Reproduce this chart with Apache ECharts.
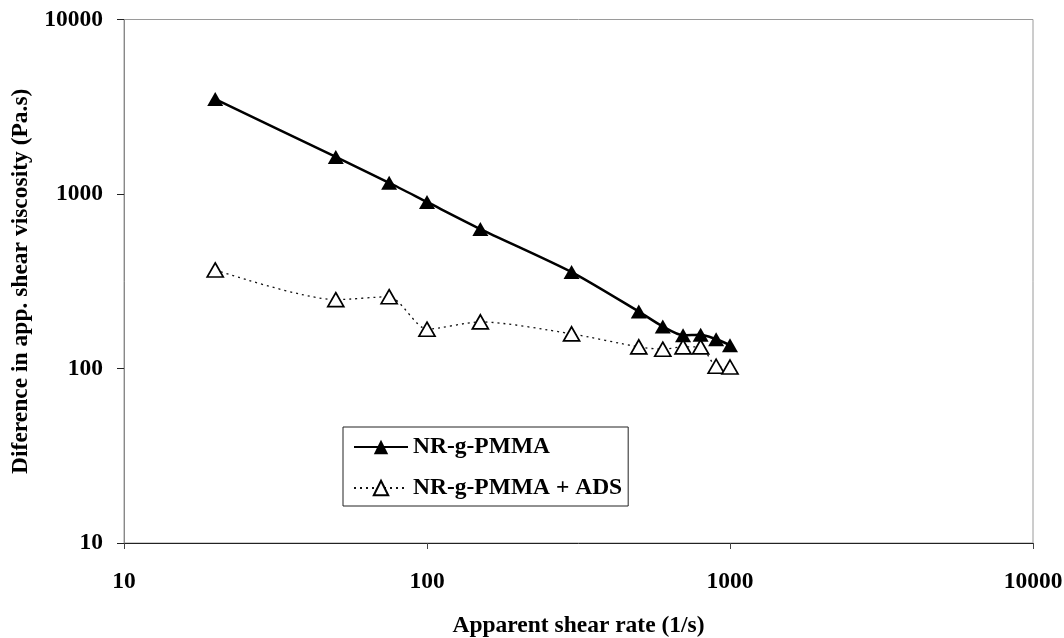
<!DOCTYPE html>
<html>
<head>
<meta charset="utf-8">
<script src="https://cdn.jsdelivr.net/npm/echarts@6/dist/echarts.min.js"></script>
<style>
html,body{margin:0;padding:0;background:#fff;}
#c{width:1064px;height:638px;}
</style>
</head>
<body>
<div id="c"></div>
<script>
const shearRates = [20, 50, 75, 100, 150, 300, 500, 600, 700, 800, 900, 1000];
const nrgPmma = [3500, 1630, 1160, 900, 630, 357, 212, 174, 155, 156, 147, 136];
const nrgPmmaAds = [367, 248, 258, 168, 185, 158, 133, 129, 133, 133, 103, 102];
const seriesNames = ['NR-g-PMMA', 'NR-g-PMMA + ADS'];
const xTitle = 'Apparent shear rate (1/s)';
const yTitle = 'Diference in app. shear viscosity (Pa.s)';

const font = '"Liberation Serif", "Times New Roman", serif';
const fs = 23.5;
const pair = (xs, ys) => xs.map((x, i) => [x, ys[i]]);
const plain = v => String(Math.round(v));

const chart = echarts.init(document.getElementById('c'), null, {renderer: 'canvas'});
chart.setOption({
  backgroundColor: '#fff',
  animation: false,
  grid: {left: 124, right: 31, top: 19.5, bottom: 95, show: true, borderColor: '#9a9a9a', borderWidth: 1,
         containLabel: false, outerBoundsMode: 'none'},
  xAxis: {
    type: 'log', logBase: 10, min: 10, max: 10000,
    name: xTitle, nameLocation: 'middle', nameGap: 71,
    nameTextStyle: {fontFamily: font, fontWeight: 'bold', fontSize: fs, color: '#000'},
    axisLine: {show: true, lineStyle: {color: '#222', width: 1}},
    axisTick: {show: true, length: 6, lineStyle: {color: '#444'}},
    minorTick: {show: false},
    splitLine: {show: false},
    axisLabel: {margin: 27, fontFamily: font, fontWeight: 'bold', fontSize: fs, color: '#000', formatter: plain}
  },
  yAxis: {
    type: 'log', logBase: 10, min: 10, max: 10000,
    name: yTitle, nameLocation: 'middle', nameGap: 90,
    nameTextStyle: {fontFamily: font, fontWeight: 'bold', fontSize: fs, color: '#000'},
    axisLine: {show: true, lineStyle: {color: '#888', width: 1}},
    axisTick: {show: true, length: 7, lineStyle: {color: '#222'}},
    minorTick: {show: false},
    splitLine: {show: false},
    axisLabel: {margin: 21, fontFamily: font, fontWeight: 'bold', fontSize: fs, color: '#000', formatter: plain}
  },
  legend: {
    left: 343, top: 427, orient: 'vertical',
    padding: [8, 6, 6, 10],
    itemWidth: 54, itemHeight: 18, itemGap: 17,
    borderColor: '#222', borderWidth: 1,
    backgroundColor: '#fff',
    textStyle: {fontFamily: font, fontWeight: 'bold', fontSize: fs, lineHeight: 24, color: '#000'},
    data: seriesNames
  },
  series: [
    {
      name: seriesNames[0], type: 'line', data: pair(shearRates, nrgPmma),
      smooth: 0.25,
      symbol: 'triangle', symbolSize: [16, 14],
      itemStyle: {color: '#000', borderColor: '#000', borderWidth: 0},
      lineStyle: {color: '#000', width: 2.5}
    },
    {
      name: seriesNames[1], type: 'line', data: pair(shearRates, nrgPmmaAds),
      smooth: 0.25,
      symbol: 'triangle', symbolSize: [16, 14],
      itemStyle: {color: '#fff', borderColor: '#000', borderWidth: 1.7},
      lineStyle: {color: '#111', width: 1.3, type: [2, 4]}
    }
  ]
});
</script>
</body>
</html>
